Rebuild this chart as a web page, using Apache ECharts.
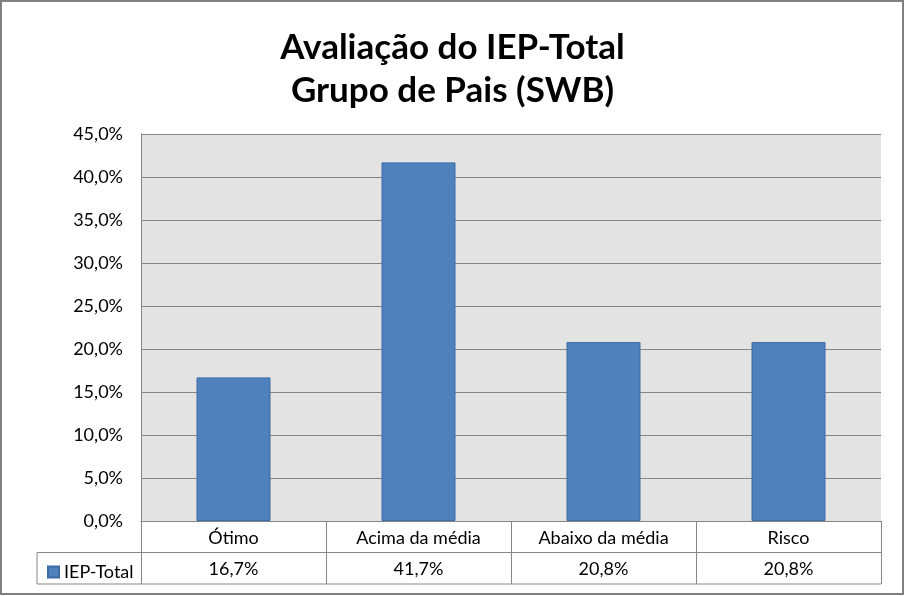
<!DOCTYPE html>
<html><head><meta charset="utf-8">
<script src="https://cdn.jsdelivr.net/npm/echarts@6/dist/echarts.min.js"></script>
<style>html,body{margin:0;padding:0;background:#fff}#c{width:905px;height:596px}</style>
</head><body><div id="c"></div>
<script>
const titleLines = ['Avaliação do IEP-Total', 'Grupo de Pais (SWB)'];
const categories = ['Ótimo', 'Acima da média', 'Abaixo da média', 'Risco'];
const seriesName = 'IEP-Total';
const values = [0.167, 0.417, 0.208, 0.208];
const yTicks = [0, 0.05, 0.10, 0.15, 0.20, 0.25, 0.30, 0.35, 0.40, 0.45];

const FONT = 'Lato, "Open Sans", sans-serif';
const LBL = 18;
const pct = v => (v * 100).toFixed(1).replace('.', ',') + '%';
const chart = echarts.init(document.getElementById('c'), null, {renderer: 'canvas'});
const L = 141, R = 881, T = 134, B = 521, rowH = 31.5;
const gridLineColor = '#868686';

const option = {
  backgroundColor: '#ffffff',
  animation: false,
  title: {
    text: titleLines.join('\n'),
    left: 'center', top: 21,
    textStyle: {fontFamily: FONT, fontWeight: 'bold', fontSize: 35, lineHeight: 43, color: '#000'}
  },
  legend: {
    left: 42, top: 558, icon: 'rect', itemWidth: 11, itemHeight: 11, itemGap: 4,
    textStyle: {fontFamily: FONT, fontSize: LBL, color: '#000'},
    data: [seriesName]
  },
  grid: {left: L, right: 905 - R, top: T, bottom: 596 - B, backgroundColor: '#e3e3e3', show: true, borderWidth: 0},
  xAxis: [{
    type: 'category', data: categories, position: 'bottom',
    axisLine: {show: true, lineStyle: {color: gridLineColor, width: 1}},
    axisTick: {show: false},
    axisLabel: {fontFamily: FONT, fontSize: LBL, color: '#000', margin: 8, interval: 0}
  }, {
    type: 'category', data: values.map(pct), position: 'bottom', offset: rowH,
    axisLine: {show: false}, axisTick: {show: false},
    axisLabel: {fontFamily: FONT, fontSize: LBL, color: '#000', margin: 8, interval: 0}
  }],
  yAxis: {
    type: 'value', min: yTicks[0], max: yTicks[yTicks.length - 1], interval: 0.05,
    axisLine: {show: true, lineStyle: {color: gridLineColor}},
    axisTick: {show: false},
    splitLine: {show: true, lineStyle: {color: gridLineColor, width: 1}},
    axisLabel: {fontFamily: FONT, fontSize: LBL, color: '#000', margin: 18, formatter: v => pct(v)}
  },
  series: [{
    name: seriesName, type: 'bar', data: values, barWidth: '40%', xAxisIndex: 0,
    itemStyle: {color: '#4f81bd', borderColor: '#3c6ba5', borderWidth: 1}
  }]
};
chart.setOption(option);

// data table grid lines
function drawTable() {
  const els = [];
  const y0 = chart.convertToPixel({yAxisIndex: 0}, 0);
  const y1 = y0 + rowH, y2 = y0 + 2 * rowH;
  const step = (R - L) / categories.length;
  const ln = (x1, ya, x2, yb) => ({type: 'line', shape: {x1, y1: ya, x2, y2: yb}, style: {stroke: gridLineColor, lineWidth: 1}, z: 10});
  els.push(ln(37, y1, R, y1));
  els.push(ln(37, y2, R, y2));
  els.push(ln(37, y1, 37, y2));
  for (let i = 0; i <= categories.length; i++) {
    const x = Math.round(L + i * step) + 0.5;
    els.push(ln(x, y0, x, y2));
  }
  els.push({type: 'rect', shape: {x: 1, y: 1, width: 902, height: 593}, style: {fill: 'none', stroke: '#808080', lineWidth: 2}, z: 20});
  chart.setOption({graphic: els});
}
drawTable();
</script></body></html>
